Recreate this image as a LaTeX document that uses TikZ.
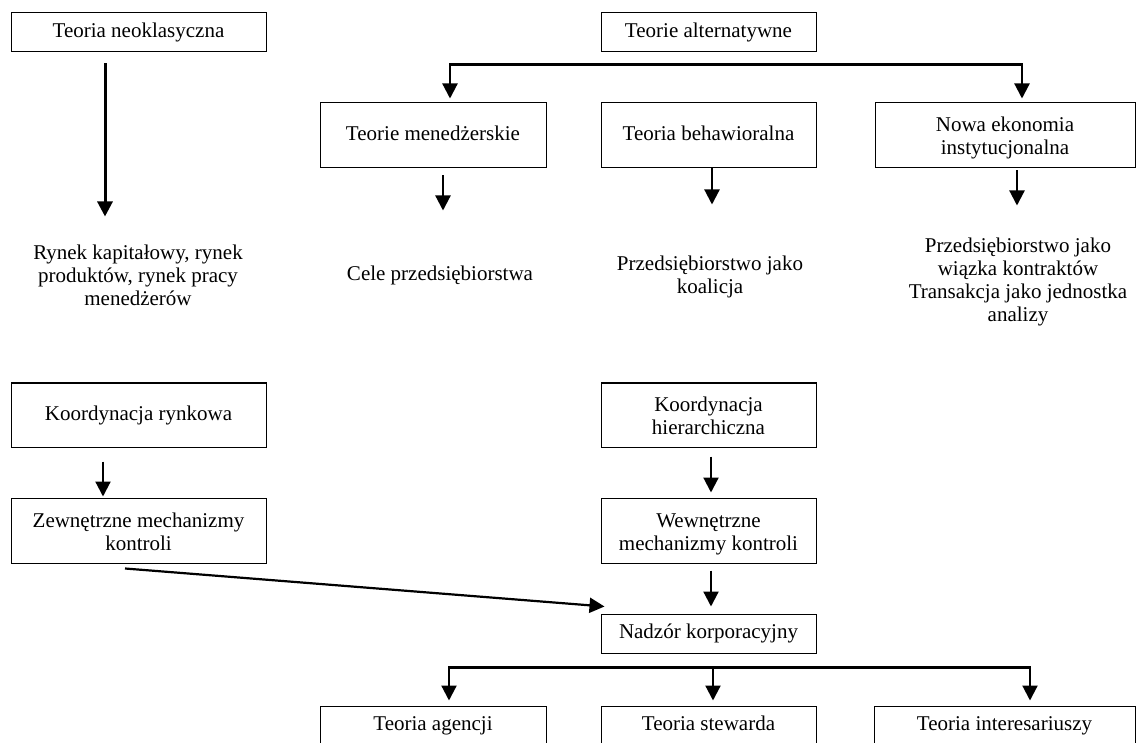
\documentclass[tikz,border=0pt]{standalone}
\usepackage{fontspec}
\setmainfont{Liberation Serif}
\usetikzlibrary{arrows.meta}

\begin{document}
\begin{tikzpicture}[x=0.5pt,y=-0.5pt,
  box/.style={draw,line width=0.5pt,inner sep=0pt,align=center,font=\fontsize{10.5}{11.5}\selectfont},
  one/.style={text height=7.5pt,text depth=2.5pt},
  two/.style={text height=22pt,text depth=2.5pt},
  lbl/.style={inner sep=0pt,align=center,font=\fontsize{10.5}{11.5}\selectfont},
  arr/.style={line width=1.1pt,-{Triangle[width=7.5pt,length=7.5pt]}},
  arrs/.style={line width=1.1pt,{Triangle[width=7.5pt,length=7.5pt]}-{Triangle[width=7.5pt,length=7.5pt]}}]
\useasboundingbox (0,0) rectangle (1141,743);
\clip (0,0) rectangle (1141,743);

% upper part
\node[box,one,minimum width=127.5pt,minimum height=19.5pt] (neo) at (138.5,32.5) {Teoria neoklasyczna};
\node[box,one,minimum width=107.5pt,minimum height=19.5pt] (alt) at (708.5,32.5) {Teorie alternatywne};
\node[box,one,minimum width=113pt,minimum height=32.5pt] (men) at (433,135.5) {Teorie menedżerskie};
\node[box,one,minimum width=107.5pt,minimum height=32.5pt] (beh) at (708.5,135.5) {Teoria behawioralna};
\node[box,two,minimum width=130pt,minimum height=32.5pt] (now) at (1005,135.5) {Nowa ekonomia\\instytucjonalna};

\node[lbl] (rynek) at (138,275) {Rynek kapitałowy, rynek\\produktów, rynek pracy\\menedżerów};
\node[lbl] (cele) at (440,275) {Cele przedsiębiorstwa};
\node[lbl] (koal) at (710,277) {Przedsiębiorstwo jako\\koalicja};
\node[lbl] (wiazka) at (1018,282) {Przedsiębiorstwo jako\\wiązka kontraktów\\Transakcja jako jednostka\\analizy};

\draw[arr,line width=1.5pt] ([shift={(-33.5,11)}]neo.south) -- ++(0,153);
\draw[arrs] ([shift={(17,-4)}]men.north) |- ([shift={(0,12)}]alt.south) -| ([shift={(17,-4)}]now.north);
\draw[arr] ([shift={(10,7)}]men.south) -- ++(0,35);
\draw[arr] ([shift={(3.5,0)}]beh.south) -- ++(0,36);
\draw[arr] ([shift={(12,2)}]now.south) -- ++(0,35);

% lower part
\node[box,one,minimum width=127.5pt,minimum height=32pt] (kr) at (138.5,415) {Koordynacja rynkowa};
\node[box,two,minimum width=127.5pt,minimum height=32.5pt] (zew) at (138.5,530.5) {Zewnętrzne mechanizmy\\kontroli};
\node[box,two,minimum width=107.5pt,minimum height=32pt] (kh) at (708.5,415) {Koordynacja\\hierarchiczna};
\node[box,two,minimum width=107.5pt,minimum height=32.5pt] (wew) at (708.5,530.5) {Wewnętrzne\\mechanizmy kontroli};
\node[box,one,minimum width=107.5pt,minimum height=19.5pt] (nad) at (708.5,633.5) {Nadzór korporacyjny};
\node[box,one,minimum width=113pt,minimum height=19.5pt] (age) at (433,725.5) {Teoria agencji};
\node[box,one,minimum width=107.5pt,minimum height=19.5pt] (ste) at (708.5,725.5) {Teoria stewarda};
\node[box,one,minimum width=130.5pt,minimum height=19.5pt] (int) at (1004.5,725.5) {Teoria interesariuszy};

\draw[arr] ([shift={(-35.5,14)}]kr.south) -- ([shift={(-35.5,-1)}]zew.north);
\draw[arr] ([shift={(2.5,9)}]kh.south) -- ([shift={(2.5,-5)}]wew.north);
\draw[arr] ([shift={(2.5,7)}]wew.south) -- ([shift={(2.5,-7)}]nad.north);
\draw[arr] ([shift={(-13.5,5)}]zew.south) -- ([shift={(4,-7)}]nad.north west);
\draw[arrs] ([shift={(16,-5)}]age.north) |- ([shift={(0,14)}]nad.south) -| ([shift={(25.5,-5)}]int.north);
\draw[arr] ([shift={(4.5,14)}]nad.south) -- ([shift={(4.5,-5)}]ste.north);

\end{tikzpicture}
\end{document}
